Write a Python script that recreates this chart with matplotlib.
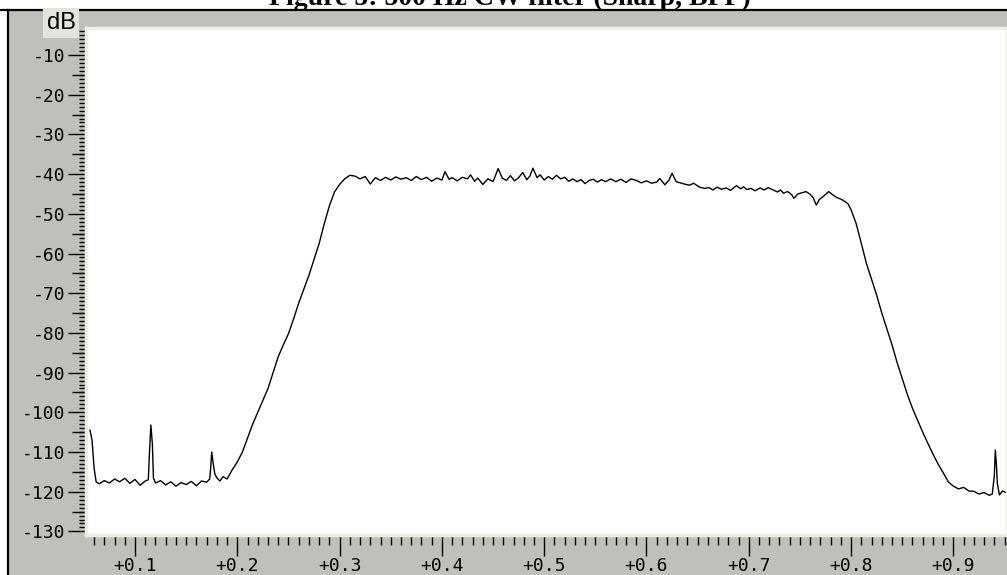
import matplotlib
matplotlib.use("Agg")
from matplotlib import pyplot as plt
from matplotlib.ticker import MultipleLocator, FuncFormatter, FixedLocator
from matplotlib.patches import Rectangle
from matplotlib.lines import Line2D

# frequency offset (kHz) and level (dB)
freq = [0.056, 0.058, 0.060, 0.062, 0.065, 0.070, 0.075, 0.080, 0.085, 0.090,
        0.095, 0.100, 0.105, 0.110, 0.113, 0.114, 0.1155, 0.117, 0.118, 0.120,
        0.125, 0.130, 0.135, 0.140, 0.145, 0.150, 0.155, 0.160, 0.165, 0.170,
        0.173, 0.174, 0.175, 0.1765, 0.178, 0.180, 0.183, 0.186, 0.190, 0.195,
        0.200, 0.205, 0.210, 0.215, 0.220, 0.225, 0.230, 0.235, 0.240, 0.245,
        0.250, 0.255, 0.260, 0.265, 0.270, 0.275, 0.280, 0.285, 0.290, 0.295,
        0.300, 0.305, 0.310, 0.315, 0.320, 0.325, 0.330, 0.335, 0.340, 0.345,
        0.350, 0.355, 0.360, 0.365, 0.370, 0.375, 0.380, 0.385, 0.390, 0.395,
        0.400, 0.403, 0.407, 0.410, 0.415, 0.420, 0.425, 0.428, 0.432, 0.435,
        0.440, 0.445, 0.450, 0.455, 0.459, 0.463, 0.467, 0.471, 0.475, 0.479,
        0.483, 0.486, 0.489, 0.493, 0.496, 0.500, 0.504, 0.508, 0.512, 0.516,
        0.520, 0.524, 0.528, 0.532, 0.536, 0.540, 0.544, 0.548, 0.552, 0.556,
        0.560, 0.565, 0.570, 0.575, 0.580, 0.585, 0.590, 0.595, 0.600, 0.605,
        0.610, 0.613, 0.618, 0.622, 0.625, 0.629, 0.633, 0.637, 0.642, 0.646,
        0.652, 0.657, 0.661, 0.665, 0.669, 0.673, 0.678, 0.682, 0.688, 0.692,
        0.695, 0.698, 0.702, 0.706, 0.711, 0.715, 0.719, 0.724, 0.728, 0.731,
        0.734, 0.738, 0.742, 0.744, 0.748, 0.752, 0.756, 0.760, 0.763, 0.766,
        0.769, 0.772, 0.776, 0.778, 0.782, 0.786, 0.790, 0.794, 0.797, 0.800,
        0.805, 0.810, 0.815, 0.820, 0.825, 0.830, 0.835, 0.840, 0.845, 0.850,
        0.855, 0.860, 0.865, 0.870, 0.875, 0.880, 0.885, 0.890, 0.895, 0.900,
        0.905, 0.910, 0.915, 0.920, 0.925, 0.930, 0.935, 0.938, 0.940, 0.941,
        0.942, 0.943, 0.945, 0.948, 0.952]

level = [-104.5, -107.0, -114.0, -117.5, -118.0, -117.2, -117.8, -116.8, -117.5, -116.6,
         -117.9, -116.9, -118.4, -117.3, -117.0, -111.0, -103.2, -108.0, -116.5, -117.8,
         -117.2, -118.3, -117.5, -118.6, -117.7, -118.2, -117.4, -118.5, -117.3, -117.6,
         -116.8, -114.0, -110.0, -113.0, -115.5, -116.5, -117.3, -116.2, -116.8, -114.5,
         -112.5, -110.0, -106.5, -103.0, -100.0, -97.0, -94.0, -90.0, -86.0, -83.0,
         -80.2, -76.5, -72.5, -69.0, -65.5, -61.5, -57.5, -52.5, -48.0, -44.5,
         -42.6, -41.2, -40.3, -40.5, -41.2, -40.6, -42.5, -40.9, -41.6, -40.8,
         -41.5, -40.7, -41.3, -40.9, -41.6, -40.6, -41.4, -40.8, -41.8, -41.0,
         -41.5, -39.4, -41.3, -40.9, -41.7, -40.8, -41.2, -40.2, -41.8, -41.0,
         -42.6, -41.2, -41.9, -38.6, -41.0, -41.6, -40.4, -41.7, -40.9, -39.6,
         -41.4, -40.5, -38.5, -40.9, -40.2, -41.5, -40.6, -41.3, -40.3, -41.2,
         -40.8, -41.8, -41.2, -41.9, -41.4, -42.4, -41.6, -41.3, -42.0, -41.4,
         -41.9, -41.2, -41.9, -41.3, -42.1, -41.2, -41.6, -42.2, -41.7, -42.3,
         -42.0, -41.1, -42.7, -41.5, -39.8, -41.9, -42.2, -42.5, -42.8, -42.3,
         -43.3, -43.6, -43.4, -44.0, -43.3, -43.8, -43.5, -44.1, -42.9, -43.7,
         -43.2, -43.9, -43.6, -44.2, -43.5, -44.0, -43.4, -44.0, -44.5, -44.0,
         -44.8, -44.4, -45.2, -46.1, -45.0, -44.7, -44.4, -45.1, -46.0, -47.8,
         -46.4, -45.8, -44.9, -44.4, -45.2, -45.9, -46.3, -46.9, -47.5, -49.0,
         -52.5, -57.5, -62.5, -66.5, -70.5, -75.0, -79.0, -83.0, -87.5, -91.5,
         -95.5, -99.0, -102.0, -105.0, -107.8, -110.5, -113.0, -115.2, -117.5, -118.6,
         -119.3, -118.9, -119.8, -119.9, -120.6, -120.2, -120.9, -120.6, -116.0, -109.5,
         -113.0, -118.0, -120.8, -119.8, -120.3]

title_text = "Figure 5: 500 Hz CW filter (Sharp, BPF)"

W, H = 1007, 575
GRAY = "#c0c0bb"

fig = plt.figure(figsize=(W / 100, H / 100), dpi=100, facecolor="white")

# grey panel with black frame (top and left edges)
fig.add_artist(Rectangle((8 / W, 0), 1, (H - 10) / H, transform=fig.transFigure,
                         facecolor=GRAY, edgecolor="none", zorder=0))
fig.add_artist(Line2D([0, 1], [1 - 10 / H, 1 - 10 / H], transform=fig.transFigure,
                      color="black", linewidth=1.6))
fig.add_artist(Line2D([7.5 / W, 7.5 / W], [0, 1 - 10 / H], transform=fig.transFigure,
                      color="black", linewidth=1.6))

# title, cut off by the top of the image
fig.text(0.506, 1 - 5 / H, title_text, ha="center", va="baseline",
         fontsize=20, fontweight="bold", family="Liberation Serif")

ax = fig.add_axes([86 / W, 40 / H, 1 - 86 / W, (535 - 28) / H])
ax.set_facecolor("white")
for s in ax.spines.values():
    s.set_color("#eeeee4")
    s.set_linewidth(2.5)

ax.plot(freq, level, color="black", linewidth=1.0)

ax.set_xlim(0.0521, 0.9524)
ax.set_ylim(-130.9, -3.2)

mono = "DejaVu Sans Mono"

ax.yaxis.set_major_locator(MultipleLocator(10))
ax.yaxis.set_minor_locator(MultipleLocator(1))
ax.yaxis.set_major_formatter(FuncFormatter(lambda v, p: "%d" % round(v)))
ax.tick_params(axis="y", which="major", direction="out", length=13, width=1.0, pad=2,
               labelsize=13, color="black")
ax.tick_params(axis="y", which="minor", direction="out", length=5, width=1.0, color="black")

ax.xaxis.set_major_locator(MultipleLocator(0.1))
ax.xaxis.set_minor_locator(MultipleLocator(0.01))
ax.xaxis.set_major_formatter(FuncFormatter(lambda v, p: "+%.1f" % v))
ax.tick_params(axis="x", which="major", direction="out", length=15, width=1.0, pad=1,
               labelsize=13, color="black")
ax.tick_params(axis="x", which="minor", direction="out", length=7, width=1.0, color="black")
for lab in ax.get_xticklabels() + ax.get_yticklabels():
    lab.set_family(mono)

# medium ticks at the 5 dB marks
sec = ax.secondary_yaxis("left")
sec.yaxis.set_major_locator(FixedLocator([-15, -25, -35, -45, -55, -65, -75, -85,
                                          -95, -105, -115, -125]))
sec.tick_params(axis="y", direction="out", length=10, width=1.0, labelleft=False)
sec.spines["left"].set_visible(False)

fig.text(61 / W, 1 - 23 / H, "dB", ha="center", va="center", fontsize=17,
         family="Liberation Sans",
         bbox=dict(boxstyle="square,pad=0.15", facecolor="#e4e4dc", edgecolor="none"))

plt.savefig("out.png", dpi=100, facecolor=fig.get_facecolor())
